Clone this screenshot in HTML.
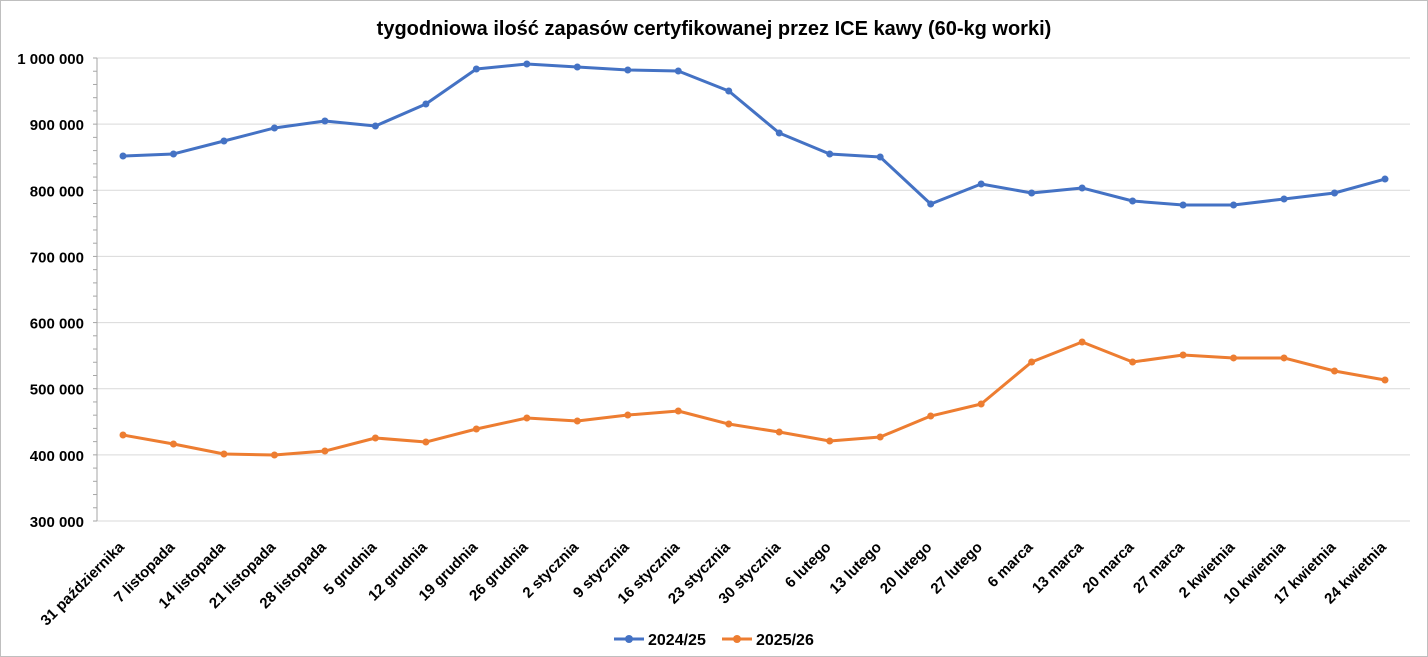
<!DOCTYPE html>
<html><head><meta charset="utf-8"><style>
body{margin:0;background:#fff;}
svg{display:block;font-family:"Liberation Sans",Arial,sans-serif;}
</style></head><body>
<svg id="chart" width="1428" height="657">
<rect x="0.5" y="0.5" width="1427" height="656" fill="#fff" stroke="#bfbfbf"/>
<text x="714" y="35" text-anchor="middle" font-size="20" font-weight="bold" fill="#000">tygodniowa ilość zapasów certyfikowanej przez ICE kawy (60-kg worki)</text>
<g id="grid"></g><g id="axes"></g><g id="series"></g>
<g>
<line x1="614" y1="639" x2="644" y2="639" stroke="#4472c4" stroke-width="3"/><circle cx="629" cy="639" r="4" fill="#4472c4"/>
<text x="648" y="645" font-size="16" font-weight="bold">2024/25</text>
<line x1="722" y1="639" x2="752" y2="639" stroke="#ed7d31" stroke-width="3"/><circle cx="737" cy="639" r="4" fill="#ed7d31"/>
<text x="756" y="645" font-size="16" font-weight="bold">2025/26</text>
</g>
</svg>
<script>
const categories=["31 października","7 listopada","14 listopada","21 listopada","28 listopada","5 grudnia","12 grudnia","19 grudnia","26 grudnia","2 stycznia","9 stycznia","16 stycznia","23 stycznia","30 stycznia","6 lutego","13 lutego","20 lutego","27 lutego","6 marca","13 marca","20 marca","27 marca","2 kwietnia","10 kwietnia","17 kwietnia","24 kwietnia"];
const series2024=[851800,854900,874500,894200,904700,897200,930500,983400,990900,986400,981900,980300,950100,886600,854900,850300,779300,809500,795900,803500,783800,777800,777800,786800,795900,817000];
const series2025=[430000,416400,401300,399800,405800,425500,419400,439100,455700,451200,460200,466300,446600,434500,420900,427000,458700,476900,540400,570600,540400,551000,546500,546500,526800,513200];
const yTicks=[300000,400000,500000,600000,700000,800000,900000,1000000];
const yTickLabels=["300 000","400 000","500 000","600 000","700 000","800 000","900 000","1 000 000"];
const NS="http://www.w3.org/2000/svg";
const y=v=>521-(v-300000)/700000*463;
const x=i=>123+i*(1385-123)/(categories.length-1);
function mk(tag,attrs,parent){const e=document.createElementNS(NS,tag);for(const k in attrs)e.setAttribute(k,attrs[k]);parent.appendChild(e);return e;}
const grid=document.getElementById('grid'),axes=document.getElementById('axes'),ser=document.getElementById('series');
yTicks.forEach((v,i)=>{
 const l=mk('line',{x1:97,x2:1410,y1:y(v),y2:y(v),stroke:'#d9d9d9','stroke-width':1},grid);
 
 
 const t=mk('text',{x:84,y:y(v)+6,'text-anchor':'end','font-size':15,'font-weight':'bold',fill:'#000'},axes);
 t.textContent=yTickLabels[i];
 
 
});
for(let v=300000;v<=1000000;v+=20000){mk('line',{x1:93,x2:97,y1:y(v),y2:y(v),stroke:'#a6a6a6'},axes);}
const ax=mk('line',{x1:97,x2:97,y1:y(1000000),y2:y(300000),stroke:'#a6a6a6'},axes);


categories.forEach((c,i)=>{
 const tx=x(i)+2, ty=548;
 const t=mk('text',{x:tx,y:ty,'text-anchor':'end','font-size':15,'font-weight':'bold',fill:'#000',transform:`rotate(-45 ${tx} ${ty})`},axes);
 t.textContent=c;
 
 
});
function draw(data,color,name){
 const p=mk('polyline',{points:data.map((v,i)=>x(i)+','+y(v)).join(' '),fill:'none',stroke:color,'stroke-width':3,'stroke-linejoin':'round'},ser);
 
 
 data.forEach((v,i)=>{const c=mk('circle',{cx:x(i),cy:y(v),r:3.5,fill:color},ser);
 
 });
}
draw(series2024,'#4472c4','series-2024-25');
draw(series2025,'#ed7d31','series-2025-26');
</script>
</body></html>
